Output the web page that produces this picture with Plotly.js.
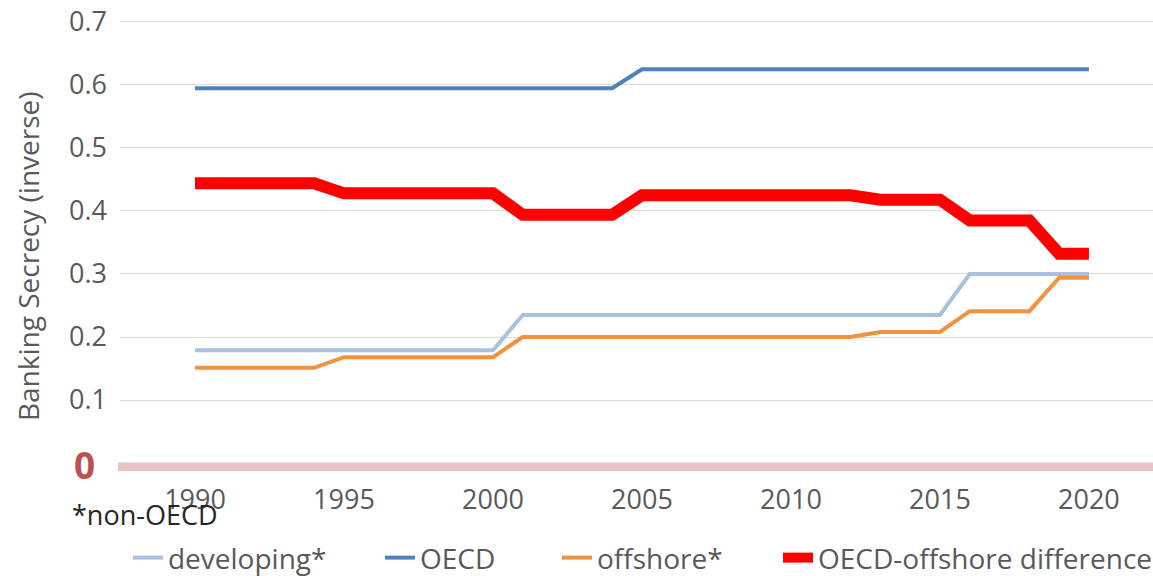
<!DOCTYPE html>
<html>
<head>
<meta charset="utf-8">
<script src="https://cdn.plot.ly/plotly-3.0.1.min.js"></script>
<style>html,body{margin:0;padding:0;background:#fff}#chart{width:1153px;height:576px}</style>
</head>
<body>
<div id="chart"></div>
<script>
var years = [];
for (var y = 1990; y <= 2020; y++) years.push(y);

var developing = [0.179,0.179,0.179,0.179,0.179,0.179,0.179,0.179,0.179,0.179,0.179,
                  0.235,0.235,0.235,0.235,0.235,0.235,0.235,0.235,0.235,0.235,0.235,0.235,0.235,0.235,0.235,
                  0.300,0.300,0.300,0.300,0.300];
var oecd = [0.595,0.595,0.595,0.595,0.595,0.595,0.595,0.595,0.595,0.595,0.595,0.595,0.595,0.595,0.595,
            0.625,0.625,0.625,0.625,0.625,0.625,0.625,0.625,0.625,0.625,0.625,0.625,0.625,0.625,0.625,0.625];
var offshore = [0.151,0.151,0.151,0.151,0.151,
                0.168,0.168,0.168,0.168,0.168,0.168,
                0.200,0.200,0.200,0.200,0.200,0.200,0.200,0.200,0.200,0.200,0.200,0.200,
                0.208,0.208,0.208,
                0.241,0.241,0.241,
                0.294,0.294];
var difference = [0.444,0.444,0.444,0.444,0.444,
                  0.428,0.428,0.428,0.428,0.428,0.428,
                  0.394,0.394,0.394,0.394,
                  0.425,0.425,0.425,0.425,0.425,0.425,0.425,0.425,
                  0.418,0.418,0.418,
                  0.385,0.385,0.385,
                  0.332,0.332];
var seriesNames = ['developing*', 'OECD', 'offshore*', 'OECD-offshore difference'];
var xTicks = [1990, 1995, 2000, 2005, 2010, 2015, 2020];
var yTicks = [0.1, 0.2, 0.3, 0.4, 0.5, 0.6, 0.7];

var FONT = 'Open Sans, Noto Sans, sans-serif';
var GRAY = '#595959';

var traces = [
  {x: years, y: developing, name: seriesNames[0], mode: 'lines', line: {color: '#a9c1de', width: 4}, legend: 'legend'},
  {x: years, y: oecd, name: seriesNames[1], mode: 'lines', line: {color: '#4f81bd', width: 4}, legend: 'legend2'},
  {x: years, y: offshore, name: seriesNames[2], mode: 'lines', line: {color: '#f0923e', width: 4}, legend: 'legend3'},
  {x: years, y: difference, name: seriesNames[3], mode: 'lines', line: {color: '#ff0000', width: 12}, legend: 'legend4'}
];

function leg(xp) {
  return {orientation: 'h', x: xp, xanchor: 'left', y: -0.205, yanchor: 'middle',
          font: {family: FONT, size: 28, color: GRAY}, itemwidth: 30, bgcolor: 'rgba(0,0,0,0)', borderwidth: 0};
}

var layout = {
  width: 1153, height: 576,
  margin: {l: 120, r: 0, t: 0, b: 113, pad: 0, autoexpand: false},
  paper_bgcolor: '#ffffff', plot_bgcolor: '#ffffff',
  font: {family: FONT, color: GRAY, size: 26},
  showlegend: true,
  legend: leg(0.0077),
  legend2: leg(0.2517),
  legend3: leg(0.4230),
  legend4: leg(0.6370),
  xaxis: {range: [1987.483, 2022.15], tickmode: 'array', tickvals: xTicks, ticktext: xTicks.map(String),
          showgrid: false, zeroline: false, showline: false, ticks: '', automargin: false,
          tickfont: {family: FONT, size: 27, color: GRAY}, ticklabelstandoff: 18, fixedrange: true},
  yaxis: {range: [0, 0.7349], tickmode: 'array', tickvals: yTicks, ticktext: yTicks.map(function(v){return v.toFixed(1);}),
          showgrid: true, gridcolor: '#d9d9d9', gridwidth: 1, zeroline: false, showline: false, ticks: '', automargin: false,
          tickfont: {family: FONT, size: 27, color: GRAY}, ticklabelstandoff: 12, fixedrange: true},
  shapes: [
    {type: 'rect', xref: 'paper', yref: 'paper', x0: -0.0019, x1: 1.0, y0: -0.0175, y1: 0.001,
     fillcolor: '#e8c3c3', line: {width: 0}, layer: 'above'}
  ],
  annotations: [
    {text: 'Banking Secrecy (inverse)', xref: 'paper', yref: 'paper', x: -0.0895, y: 0.446,
     textangle: -90, showarrow: false, xanchor: 'center', yanchor: 'middle',
     font: {family: FONT, size: 28, color: GRAY}},
    {text: '<b>0</b>', xref: 'paper', yref: 'paper', x: -0.034, y: -0.004,
     showarrow: false, xanchor: 'center', yanchor: 'middle',
     font: {family: FONT, size: 37, color: '#c0504d'}},
    {text: '*non-OECD', xref: 'paper', yref: 'paper', x: -0.0484, y: -0.111,
     showarrow: false, xanchor: 'left', yanchor: 'middle',
     font: {family: FONT, size: 27, color: '#262626'}}
  ]
};

Plotly.newPlot('chart', traces, layout, {displayModeBar: false, staticPlot: true});
</script>
</body>
</html>
